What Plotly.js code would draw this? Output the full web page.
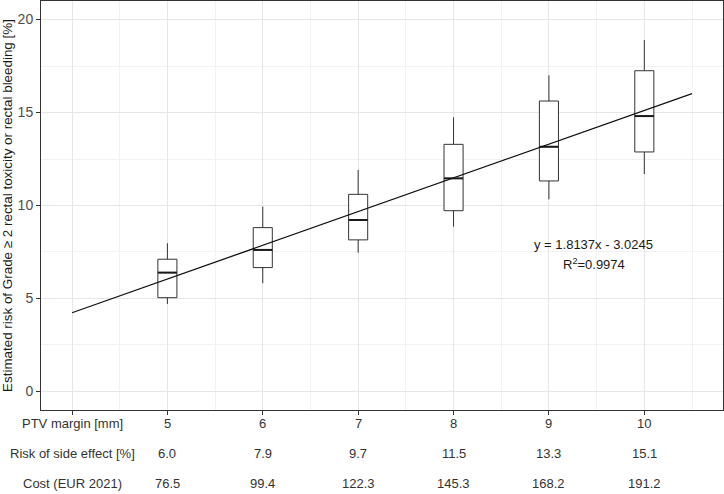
<!DOCTYPE html>
<html>
<head>
<meta charset="utf-8">
<script src="https://cdn.plot.ly/plotly-3.0.1.min.js"></script>
<style>html,body{margin:0;padding:0;background:#fff;}#chart{width:724px;height:494px;}</style>
</head>
<body>
<div id="chart"></div>
<script>
// PTV margins (mm)
const margins = [5, 6, 7, 8, 9, 10];
// Box statistics (estimated risk %)
const lowerWhisker = [4.70, 5.82, 7.46, 8.86, 10.33, 11.69];
const q1 = [5.04, 6.66, 8.15, 9.72, 11.32, 12.88];
const medians = [6.39, 7.61, 9.22, 11.46, 13.16, 14.81];
const q3 = [7.11, 8.81, 10.60, 13.29, 15.62, 17.25];
const upperWhisker = [7.97, 9.94, 11.91, 14.74, 17.00, 18.90];
// Regression
const slope = 1.8137;
const intercept = -3.0245;
const fitX = [4, 10.5];
// Table rows
const rowLabels = ["PTV margin [mm]", "Risk of side effect [%]", "Cost (EUR 2021)"];
const ptvText = ["5", "6", "7", "8", "9", "10"];
const riskText = ["6.0", "7.9", "9.7", "11.5", "13.3", "15.1"];
const costText = ["76.5", "99.4", "122.3", "145.3", "168.2", "191.2"];

const boxW = 0.2;
const font = "Liberation Sans, Arial, sans-serif";

const boxTrace = {
  type: 'box',
  x: margins,
  q1: q1, median: medians, q3: q3,
  lowerfence: lowerWhisker, upperfence: upperWhisker,
  width: boxW,
  fillcolor: 'rgba(255,255,255,1)',
  line: {color: '#333333', width: 1},
  whiskerwidth: 0,
  hoverinfo: 'skip',
  showlegend: false
};

const medX = [], medY = [];
margins.forEach((m, i) => { medX.push(m - boxW/2, m + boxW/2, null); medY.push(medians[i], medians[i], null); });
const medTrace = {type: 'scatter', mode: 'lines', x: medX, y: medY, line: {color: '#1a1a1a', width: 2}, hoverinfo: 'skip', showlegend: false};

const fitTrace = {
  type: 'scatter', mode: 'lines',
  x: fitX, y: fitX.map(v => slope * v + intercept),
  line: {color: '#111111', width: 1.3},
  hoverinfo: 'skip', showlegend: false
};

const tableRows = [ptvText, riskText, costText];
const rowY = [-0.034, -0.106, -0.179];
const annotations = [];
rowLabels.forEach((lab, r) => {
  annotations.push({x: 4, y: rowY[r], xref: 'x', yref: 'paper', text: lab, showarrow: false, xanchor: 'center', yanchor: 'middle', font: {family: font, size: 13, color: '#333333'}});
  tableRows[r].forEach((t, i) => {
    annotations.push({x: margins[i], y: rowY[r], xref: 'x', yref: 'paper', text: t, showarrow: false, xanchor: 'center', yanchor: 'middle', font: {family: font, size: 13, color: '#333333'}});
  });
});
annotations.push({x: 9.47, y: 7.88, xref: 'x', yref: 'y', text: 'y = ' + slope.toFixed(4) + 'x - ' + Math.abs(intercept).toFixed(4), showarrow: false, xanchor: 'center', yanchor: 'middle', font: {family: font, size: 13, color: '#1a1a1a'}});
annotations.push({x: 9.47, y: 6.85, xref: 'x', yref: 'y', text: 'R<sup>2</sup>=0.9974', showarrow: false, xanchor: 'center', yanchor: 'middle', font: {family: font, size: 13, color: '#1a1a1a'}});

const layout = {
  width: 724, height: 494,
  margin: {l: 41, r: 1, t: 1, b: 84},
  paper_bgcolor: '#ffffff', plot_bgcolor: '#ffffff',
  font: {family: font, size: 13, color: '#4d4d4d'},
  xaxis: {
    range: [3.675, 10.825],
    tickvals: [4, 5, 6, 7, 8, 9, 10],
    showticklabels: false,
    ticks: 'outside', ticklen: 4, tickcolor: '#333333',
    showgrid: true, gridcolor: '#e6e6e6', gridwidth: 1,
    minor: {dtick: 0.5, tick0: 0, showgrid: true, gridcolor: '#f2f2f2', gridwidth: 1},
    showline: true, mirror: true, linecolor: '#333333', linewidth: 1,
    zeroline: false
  },
  yaxis: {
    range: [-1, 21],
    tickvals: [0, 5, 10, 15, 20],
    ticks: 'outside', ticklen: 4, tickcolor: '#333333',
    tickfont: {family: font, size: 14, color: '#4d4d4d'},
    showgrid: true, gridcolor: '#e6e6e6', gridwidth: 1,
    minor: {dtick: 2.5, tick0: 0, showgrid: true, gridcolor: '#f2f2f2', gridwidth: 1},
    showline: true, mirror: true, linecolor: '#333333', linewidth: 1,
    zeroline: false,
    title: {text: 'Estimated risk of Grade \u2265 2 rectal toxicity or rectal bleeding [%]', font: {family: font, size: 13.4, color: '#1a1a1a'}, standoff: 3}
  },
  annotations: annotations,
  showlegend: false
};

Plotly.newPlot('chart', [boxTrace, medTrace, fitTrace], layout, {displayModeBar: false, staticPlot: true});
</script>
</body>
</html>
